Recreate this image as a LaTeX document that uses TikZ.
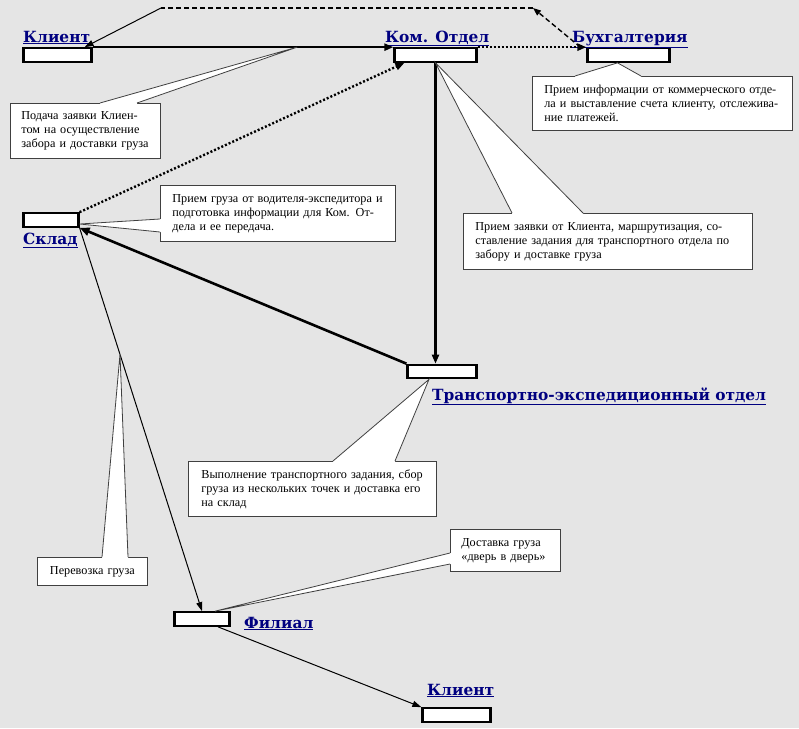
\documentclass[tikz,border=0pt]{standalone}
\usepackage{fontspec}
\setmainfont{Liberation Serif}
\newfontfamily\headfont{DejaVu Serif}
\usetikzlibrary{arrows.meta,calc,positioning}
\definecolor{bgfill}{RGB}{229,229,229}
\definecolor{headblue}{RGB}{0,0,128}
\tikzset{
  unit/.style={draw, fill=white, line width=2.2pt, inner sep=0pt, minimum height=13.5pt},
  head/.style={font=\headfont\bfseries\fontsize{15.4}{18}\selectfont, text=headblue, inner sep=0pt, anchor=base west},
  note/.style={draw=black!75, fill=white, line width=0.8pt, font=\fontsize{12.2}{14}\selectfont, align=left, anchor=north west, inner xsep=11pt, inner ysep=0pt},
  tri/.style={draw=black!75, line width=0.8pt},
  thickflow/.style={line width=2.2pt, -{Triangle[length=9pt,width=7pt]}},
  dotflow/.style={line width=2.4pt, dash pattern=on 2pt off 2pt, -{Triangle[length=9pt,width=7pt]}},
  thinflow/.style={line width=1pt, -{Triangle[length=9pt,width=6pt]}},
  dashflow/.style={line width=1.4pt, dash pattern=on 5pt off 3pt, -{Triangle[length=8pt,width=6pt]}},
  dashline/.style={line width=1.4pt, dash pattern=on 5pt off 3pt}
}
\newcommand{\pointer}[4]{%
  \fill[white] ($(#1)+(#4)$) -- (#1) -- (#3) -- (#2) -- ($(#2)+(#4)$) -- cycle;
  \draw[tri] (#1) -- (#3) -- (#2);}
\begin{document}
\begin{tikzpicture}[x=1pt, y=-1pt]
  \fill[bgfill] (0, 0) rectangle (799, 728);
  \useasboundingbox (0, 0) rectangle (799, 728);

  \node[unit, minimum width=68pt] (klient) at (57.5, 55) {};
  \node[unit, minimum width=82pt] (komotdel) at (435.5, 55) {};
  \node[unit, minimum width=82pt] (buh) at (628.5, 55) {};
  \node[unit, minimum width=55pt] (sklad) at (51, 220) {};
  \node[unit, minimum width=69pt] (transp) at (442, 371.5) {};
  \node[unit, minimum width=55pt] (filial) at (202, 619) {};
  \node[unit, minimum width=68pt] (klient2) at (456.5, 715) {};

  \node[head] (lKlient) at (23, 42) {\underline{Клиент}};
  \node[head] (lKomotdel) at (385, 42) {\underline{Ком. Отдел}};
  \node[head] (lBuh) at (572, 42) {\underline{Бухгалтерия}};
  \node[head] (lSklad) at (23, 244) {\underline{Склад}};
  \node[head] (lTransp) at (432, 400) {\underline{Транспортно-экспедиционный отдел}};
  \node[head] (lFilial) at (244, 628) {\underline{Филиал}};
  \node[head] (lKlient2) at (427, 695) {\underline{Клиент}};

  \coordinate (d1) at (533, 8);
  \coordinate (d2) at (161, 8);
  \draw[thickflow] (klient.north east) -- (komotdel.north west);
  \draw[dotflow] (komotdel.north east) -- (buh.north west);
  \draw[dotflow] (sklad.north east) -- ([xshift=11pt]komotdel.south west);
  \draw[thickflow] (komotdel.south) -- (komotdel.south |- transp.north);
  \draw[line width=2.6pt, -{Triangle[length=10pt,width=8pt]}] (transp.north west) -- (sklad.south east);
  \draw[thinflow] (sklad.south east) -- (filial.north);
  \draw[thinflow] ([xshift=16pt]filial.south) -- (klient2.north west);
  \draw[dashflow] ([xshift=-6pt]buh.north west) -- (d1);
  \draw[dashline] (d1) -- (d2);
  \draw[thinflow] (d2) -- ([xshift=-8pt]klient.north east);

  \node[note, text width=128pt, minimum height=55pt] (nPodacha) at (10, 103)
    {Подача заявки Клиен-\\том на осуществление\\забора и доставки груза};
  \coordinate (pa1) at ($(nPodacha.north west)+(90, 0)$);
  \coordinate (pa2) at ($(nPodacha.north west)+(127, 0)$);
  \coordinate (pa3) at ($(klient.north east)!0.68!(komotdel.north west)$);
  \pointer{pa1}{pa2}{pa3}{0, 2}

  \node[note, inner xsep=12pt, text width=236pt, minimum height=54pt] (nBuh) at (532, 76)
    {Прием информации от коммерческого отде-\\ла и выставление счета клиенту, отслежива-\\ние платежей.};
  \coordinate (pb1) at ($(nBuh.north west)+(43, 0)$);
  \coordinate (pb2) at ($(nBuh.north west)+(109, 0)$);
  \coordinate (pb3) at ([xshift=-11pt]buh.south);
  \pointer{pb1}{pb2}{pb3}{0, 2}

  \node[note, inner xsep=12pt, text width=211pt, minimum height=56pt] (nSklad) at (160, 185)
    {Прием груза от водителя-экспедитора и\\подготовка информации для Ком. От-\\дела и ее передача.};
  \coordinate (pc1) at ($(nSklad.north west)+(0, 34)$);
  \coordinate (pc2) at ($(nSklad.north west)+(0, 47)$);
  \coordinate (pc3) at ([yshift=-4pt]sklad.east);
  \pointer{pc1}{pc2}{pc3}{2, 0}

  \node[note, inner xsep=12pt, text width=265pt, minimum height=56pt] (nKom) at (463, 213)
    {Прием заявки от Клиента, маршрутизация, со-\\ставление задания для транспортного отдела по\\забору и доставке груза};
  \coordinate (pd1) at ($(nKom.north west)+(49, 0)$);
  \coordinate (pd2) at ($(nKom.north west)+(120, 0)$);
  \pointer{pd1}{pd2}{komotdel.south}{0, 2}

  \node[note, inner xsep=13pt, text width=222pt, minimum height=55pt] (nTransp) at (188, 461)
    {Выполнение транспортного задания, сбор\\груза из нескольких точек и доставка его\\на склад};
  \coordinate (pe1) at ($(nTransp.north west)+(145, 0)$);
  \coordinate (pe2) at ($(nTransp.north west)+(207, 0)$);
  \coordinate (pe3) at ([xshift=-13pt]transp.south);
  \pointer{pe1}{pe2}{pe3}{0, 2}

  \node[note, align=center, text width=88pt, minimum height=28pt] (nPerevozka) at (37, 557)
    {Перевозка груза};
  \coordinate (pf1) at ($(nPerevozka.north west)+(65, 0)$);
  \coordinate (pf2) at ($(nPerevozka.north west)+(91, 0)$);
  \coordinate (pf3) at ($(sklad.south east)!0.33!(filial.north)$);
  \pointer{pf1}{pf2}{pf3}{0, 2}

  \node[note, text width=88pt, minimum height=42pt] (nDostavka) at (450, 529)
    {Доставка груза\\«дверь в дверь»};
  \coordinate (pg1) at ($(nDostavka.north west)+(0, 24)$);
  \coordinate (pg2) at ($(nDostavka.north west)+(0, 35)$);
  \coordinate (pg3) at ([xshift=13pt]filial.north);
  \pointer{pg1}{pg2}{pg3}{2, 0}
\end{tikzpicture}
\end{document}
